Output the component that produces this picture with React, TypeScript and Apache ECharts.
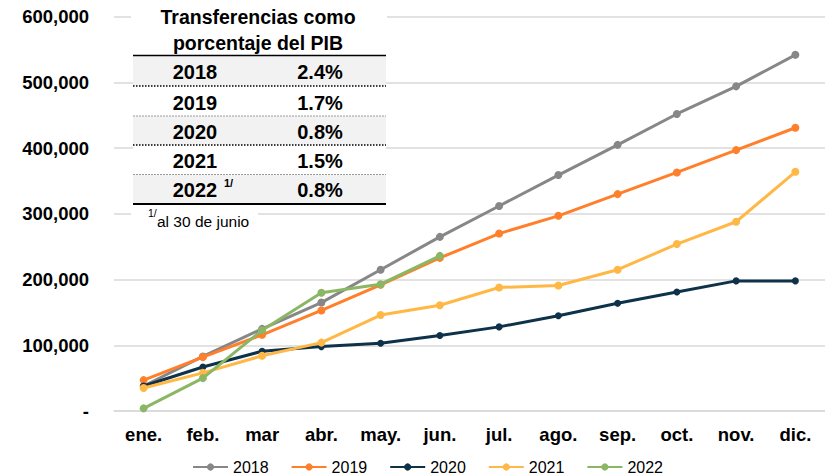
import React, { useEffect, useRef } from "react";
import * as echarts from "echarts";

const months = ["ene.", "feb.", "mar", "abr.", "may.", "jun.", "jul.", "ago.", "sep.", "oct.", "nov.", "dic."];
const years = ["2018", "2019", "2020", "2021", "2022"];
const d2018 = [38000, 83000, 125000, 165000, 215000, 265000, 312000, 359000, 405000, 452000, 494000, 542000];
const d2019 = [47000, 82000, 116000, 153000, 192000, 233000, 270000, 297000, 330000, 363000, 397000, 431000];
const d2020 = [38000, 67000, 91000, 98000, 103000, 115000, 128000, 145000, 164000, 181000, 198000, 198000];
const d2021 = [35000, 58000, 84000, 104000, 146000, 161000, 188000, 191000, 215000, 254000, 288000, 364000];
const d2022 = [4000, 50000, 123000, 180000, 193000, 236000];
const seriesData = [d2018, d2019, d2020, d2021, d2022];
const colors = ["#878787", "#ff7f2a", "#0e3249", "#ffb845", "#8bb764"];
const tableTitle = ["Transferencias como", "porcentaje del PIB"];
const tableYears = ["2018", "2019", "2020", "2021", "2022"];
const tablePct = ["2.4%", "1.7%", "0.8%", "1.5%", "0.8%"];
const footnote = "al 30 de junio";

const FONT = "'Liberation Sans', Arial, sans-serif";

function txt(text: string, x: number, y: number, size: number, weight: string, align = "center") {
  return {
    type: "text",
    z: 101,
    style: {
      text,
      x,
      y,
      fill: "#000",
      font: `${weight} ${size}px ${FONT}`,
      align,
      verticalAlign: "middle",
      textAlign: align,
      textVerticalAlign: "middle",
    },
  };
}

function hline(y: number, stroke: string, lineWidth: number, dash?: number[]) {
  return {
    type: "line",
    z: 101,
    shape: { x1: 133, y1: y, x2: 386, y2: y },
    style: { stroke, lineWidth, lineDash: dash || null },
  };
}

export default function App() {
  const ref = useRef<HTMLDivElement>(null);
  useEffect(() => {
    if (!ref.current) return;
    const chart = echarts.init(ref.current, null, { renderer: "svg" });
    const rowTops = [56, 87, 116, 146, 175];
    const rowBottoms = [86, 116, 145, 174, 203];
    const graphics: any[] = [];
    // white background for title and table
    graphics.push({ type: "rect", z: 100, shape: { x: 131, y: 0, width: 256, height: 56 }, style: { fill: "#fff" } });
    rowTops.forEach((t, i) => {
      graphics.push({
        type: "rect",
        z: 100,
        shape: { x: 133, y: t, width: 253, height: rowBottoms[i] - t },
        style: { fill: i % 2 === 0 ? "#f2f2f2" : "#ffffff" },
      });
    });
    graphics.push({ type: "rect", z: 100, shape: { x: 131, y: 205, width: 127, height: 24 }, style: { fill: "#fff" } });
    graphics.push(txt(tableTitle[0], 258, 17, 19.5, "bold"));
    graphics.push(txt(tableTitle[1], 258, 43, 19.5, "bold"));
    graphics.push(hline(55.5, "#000", 1.5));
    graphics.push(hline(86, "#000", 1.5, [1.5, 1.5]));
    graphics.push(hline(116, "#999", 1.2, [2, 1]));
    graphics.push(hline(145, "#000", 1.5, [1.5, 1.5]));
    graphics.push(hline(174.5, "#999", 1.2, [2, 1]));
    graphics.push(hline(204, "#000", 2));
    tableYears.forEach((y, i) => {
      const cy = (rowTops[i] + rowBottoms[i]) / 2 + 1;
      graphics.push(txt(y, 195, cy, 20, "bold"));
      graphics.push(txt(tablePct[i], 320, cy, 20, "bold"));
    });
    graphics.push(txt("1/", 224, 183, 11, "bold", "left"));
    graphics.push(txt("1/", 148, 213, 10.5, "normal", "left"));
    graphics.push(txt(footnote, 157, 221, 15.5, "normal", "left"));

    chart.setOption({
      animation: false,
      backgroundColor: "#ffffff",
      color: colors,
      grid: { left: 114, right: 0, top: 16.7, bottom: 65, containLabel: false },
      legend: {
        data: years,
        left: 192,
        top: 459,
        padding: 0,
        itemWidth: 35,
        itemHeight: 9,
        itemGap: 22,
        textStyle: { fontFamily: FONT, fontSize: 16, lineHeight: 16, color: "#000" },
      },
      xAxis: {
        type: "category",
        data: months,
        boundaryGap: true,
        axisLine: { show: true, lineStyle: { color: "#d9d9d9", width: 1.5 } },
        axisTick: { show: false },
        axisLabel: { margin: 14, fontFamily: FONT, fontWeight: "bold", fontSize: 18.5, color: "#000", interval: 0 },
      },
      yAxis: {
        type: "value",
        min: 0,
        max: 600000,
        interval: 100000,
        axisLine: { show: false },
        axisTick: { show: false },
        splitLine: { lineStyle: { color: "#d9d9d9", width: 1.5 } },
        axisLabel: {
          margin: 25,
          fontFamily: FONT,
          fontWeight: "bold",
          fontSize: 18.5,
          color: "#000",
          formatter: (v: number) => (v === 0 ? "-" : v.toLocaleString("en-US")),
        },
      },
      series: years.map((name, i) => ({
        name,
        type: "line",
        data: seriesData[i],
        symbol: "circle",
        symbolSize: i === 2 ? 7 : 8,
        lineStyle: { width: 3, color: colors[i] },
        itemStyle: { color: colors[i] },
        z: 2 + i,
      })),
      graphic: graphics,
    });
    return () => chart.dispose();
  }, []);
  return <div ref={ref} style={{ position: "absolute", left: 0, top: 0, width: 825, height: 476 }} />;
}
